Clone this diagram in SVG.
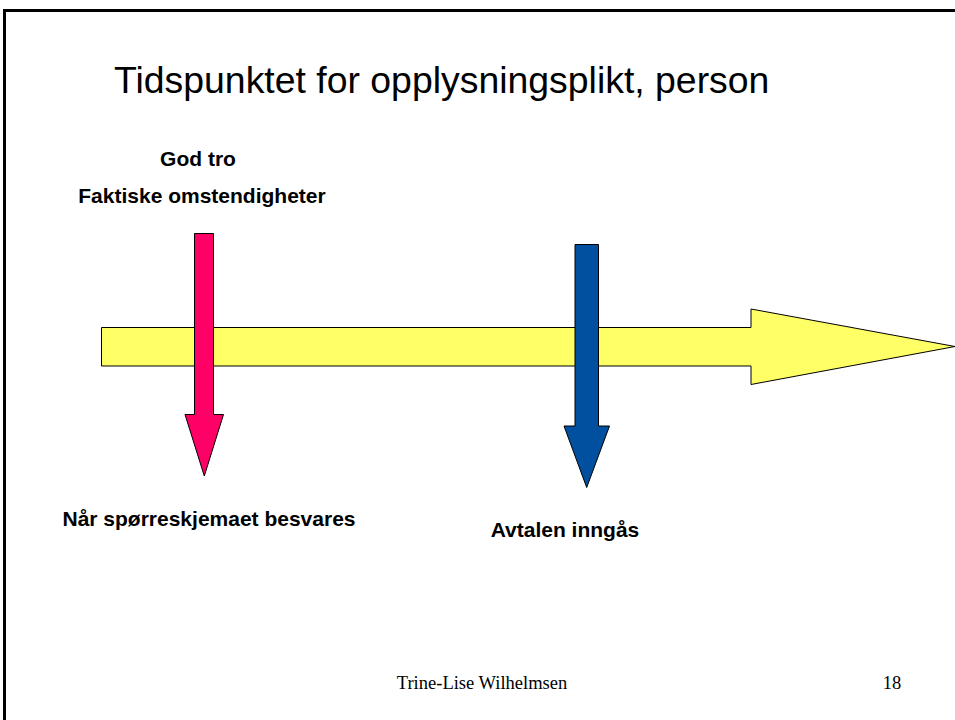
<svg xmlns="http://www.w3.org/2000/svg" width="955" height="720" viewBox="0 0 955 720">
<style>
.b{font-family:"Liberation Sans",Arial,sans-serif;font-weight:bold;font-size:21px;fill:#000}
.t{font-family:"Liberation Serif","Times New Roman",serif;font-size:18.5px;fill:#000}
.o{stroke:#000;stroke-width:1}
</style>
<rect x="0" y="0" width="955" height="720" fill="#fff"/>
<rect x="4.5" y="10.5" width="960" height="720" fill="none" stroke="#000" stroke-width="3"/>
<text x="114" y="93" font-family="Liberation Sans,Arial,sans-serif" font-size="37.4" fill="#000">Tidspunktet for opplysningsplikt, person</text>
<g id="timeline">
<polygon class="o" fill="#FFFF66" points="101.5,327.5 751,327.5 751,309 955,346.5 751,384.5 751,366 101.5,366"/>
</g>
<g id="arrow-pink">
<polygon class="o" fill="#FF0066" points="194.5,233.5 213.5,233.5 213.5,414.5 223.5,414.5 204.3,476 185,414.5 194.5,414.5"/>
</g>
<g id="arrow-blue">
<polygon class="o" fill="#00509F" points="575,244.5 598.5,244.5 598.5,426 609.5,426 586.7,487.5 564,426 575,426"/>
</g>
<g id="labels">
<text class="b" x="198" y="166" text-anchor="middle">God tro</text>
<text class="b" x="202" y="203" text-anchor="middle">Faktiske omstendigheter</text>
<text class="b" x="209" y="526" text-anchor="middle">Når spørreskjemaet besvares</text>
<text class="b" x="565" y="537" text-anchor="middle">Avtalen inngås</text>
</g>
<text class="t" x="482" y="689" text-anchor="middle">Trine-Lise Wilhelmsen</text>
<text class="t" x="892" y="689" text-anchor="middle">18</text>
</svg>
